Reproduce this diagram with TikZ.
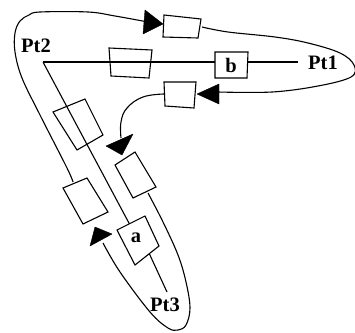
\documentclass[tikz,border=0pt]{standalone}
\usepackage{fontspec}
\setmainfont{Liberation Serif}
\tikzset{
  curveline/.style={line width=1.1pt,black},
  boxshape/.style={draw=black,line width=1.1pt,fill=white,line join=miter},
  headshape/.style={fill=black,draw=black,line width=.4pt,line join=round},
  lbl/.style={font=\fontsize{20.5}{20.5}\selectfont\bfseries,inner sep=0pt,text=black}
}
\begin{document}
\begin{tikzpicture}[x=1pt,y=-1pt]
\useasboundingbox (0,0) rectangle (355,332);
% anchor points
\coordinate (p2) at (43,62);
\coordinate (p1) at (298,62);
\coordinate (p3) at (167,292);
\coordinate (topL) at (163,24);
\coordinate (lowR) at (197,94);
\coordinate (b2tip) at (122,155);
\coordinate (b3tip) at (95,227);
% spokes
\draw[curveline] (p2) -- (p1);
\draw[curveline] (p2) -- (130,225);
\draw[curveline] (149,253) -- (p3);
% boundary curve
\draw[curveline] plot[smooth,tension=.6] coordinates {(73,182) (67,168) (40,115) (22,78) (15,52) (15,33) (20,21) (29,15) (40,12) (88,12) (115,16) (148,22)};
\draw[curveline] plot[smooth,tension=.6] coordinates {(202,27) (228,32) (275,37) (308,43) (340,53) (354,65) (351,77) (318,86) (272,92) (218,92)};
\draw[curveline] plot[smooth,tension=.7] coordinates {(164,94) (143,97) (127,108) (121,122) (121,138)};
\draw[curveline] plot[smooth,tension=.6] coordinates {(148,193) (163,222) (178,255) (186,282) (190,308) (186,325) (178,330) (168,328) (150,312) (120,272) (103,243)};
% boxes
\draw[boxshape] (164,15) -- (201,19) -- (198,38) -- (163,37) -- cycle;
\draw[boxshape,fill=none] (109,48) -- (152,50) -- (149,78) -- (111,76) -- cycle;
\draw[boxshape] (215,52) -- (248,52) -- (247,78) -- (215,78) -- cycle;
\draw[boxshape] (164,82) -- (196,82) -- (194,108) -- (165,106) -- cycle;
\draw[boxshape,fill=none] (53,112) -- (85,99) -- (103,135) -- (77,150) -- cycle;
\draw[boxshape] (115,165) -- (135,152) -- (156,187) -- (133,198) -- cycle;
\draw[boxshape] (63,188) -- (87,178) -- (108,212) -- (83,224) -- cycle;
\draw[boxshape] (117,230) -- (145,216) -- (159,246) -- (135,265) -- cycle;
% arrowheads
\fill[headshape] (145,10) -- (topL) -- (143,34) -- cycle;
\fill[headshape] (219,84) -- (lowR) -- (219,104) -- cycle;
\fill[headshape] (133,134) -- (b2tip) -- (106,146) -- cycle;
\fill[headshape] (112,234) -- (b3tip) -- (90,246) -- cycle;
% labels
\node[lbl] (lp2) at (36,46) {Pt2};
\node[lbl] (lp1) at (323,63) {Pt1};
\node[lbl] (lp3) at (165,305) {Pt3};
\node[lbl] (lb) at (231,65) {b};
\node[lbl] (la) at (136,238) {a};
\end{tikzpicture}
\end{document}
